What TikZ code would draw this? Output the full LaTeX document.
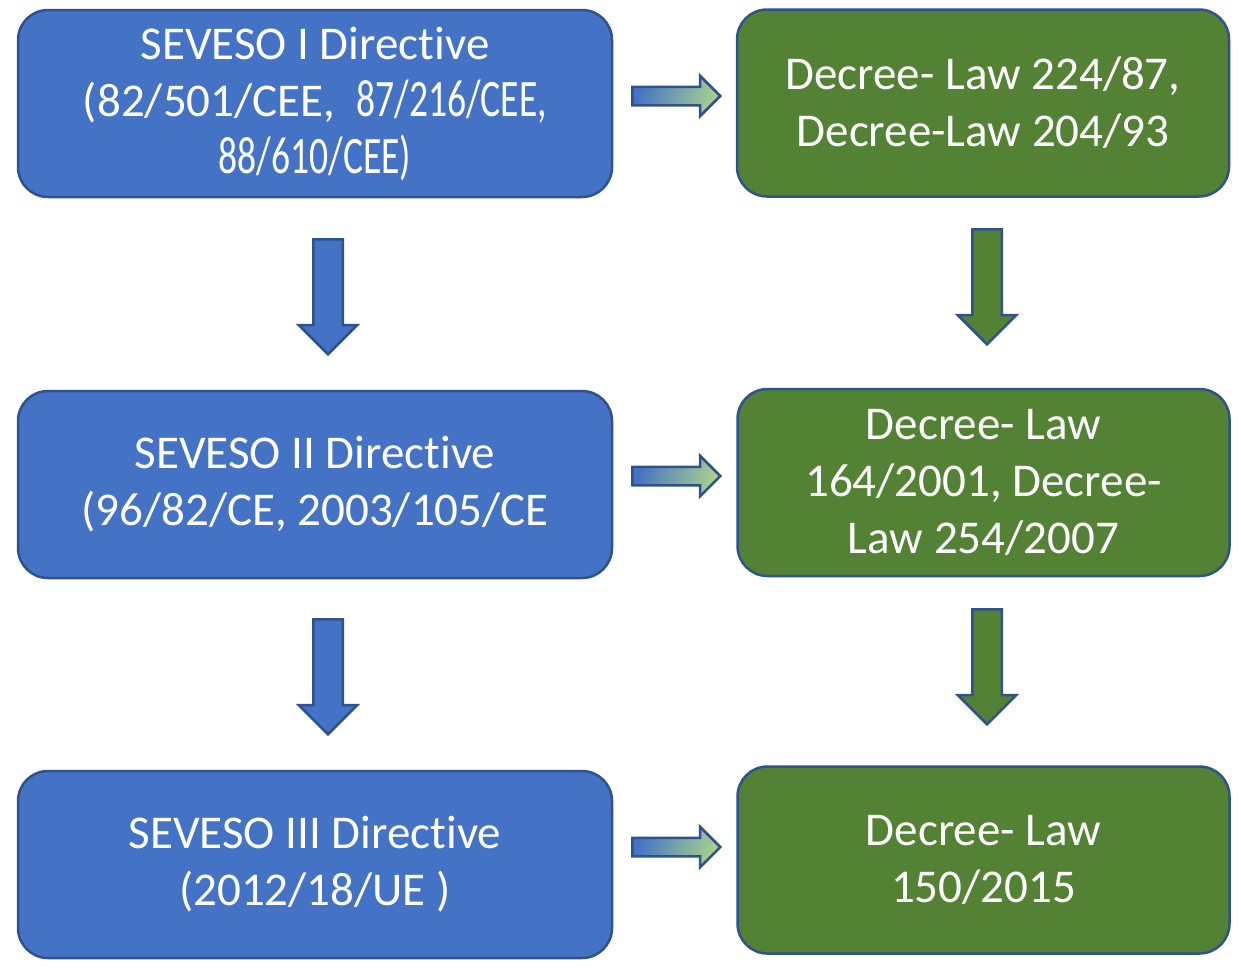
\documentclass[tikz,border=0pt]{standalone}
\usepackage{fontspec}
\setmainfont{Carlito}[Ligatures=NoCommon]
\usepackage{xcolor}
\usepackage{tikz}
\usetikzlibrary{shapes.arrows, positioning}
\definecolor{sevblue}{HTML}{4472C4}
\definecolor{sevedge}{HTML}{2F528F}
\definecolor{lawgreen}{HTML}{548235}
\definecolor{lawlight}{HTML}{A9D18E}

\tikzset{
  card/.style={rounded corners=30pt, draw=sevedge, line width=2.5pt,
    minimum height=187pt, align=center, text=white,
    font=\fontsize{47}{57}\selectfont},
  dirbox/.style={card, fill=sevblue, minimum width=594pt},
  lawbox/.style={card, fill=lawgreen, minimum width=492pt},
  downarrow/.style={single arrow, draw=sevedge, line width=2.5pt,
    shape border rotate=270, inner ysep=0pt, inner xsep=13.5pt,
    single arrow head extend=14.5pt, minimum height=115pt, anchor=tail},
  sidearrow/.style={single arrow, draw=sevedge, line width=2.5pt,
    inner xsep=0pt, inner ysep=8pt, single arrow head extend=11pt,
    minimum height=88pt, anchor=tail, left color=sevblue,
    middle color=lawgreen, right color=lawlight, shading angle=75}
}
\newcommand{\agency}[1]{\scalebox{0.8}[1.12]{#1}}

\begin{document}
\begin{tikzpicture}[x=1pt, y=-1pt]
  \useasboundingbox (0,0) rectangle (1241,967);
  % directives
  \node[dirbox] (sev1) at (315,103.5) {SEVESO I Directive\\(82/501/CEE,~ \agency{87/216/CEE,}\\\agency{88/610/CEE)}};
  \node[dirbox] (sev2) at (315,484.5) {SEVESO II Directive\\(96/82/CE, 2003/105/CE};
  \node[dirbox] (sev3) at (315,864.5) {SEVESO III Directive\\(2012/18/UE )};
  % national law
  \node[lawbox] (law1) at (983,103) {Decree- Law 224/87,\\Decree-Law 204/93};
  \node[lawbox] (law2) at (983.5,482.5) {Decree- Law\\164/2001, Decree-\\Law 254/2007};
  \node[lawbox] (law3) at (983.5,860) {Decree- Law\\150/2015};
  % block arrows
  \node[downarrow, fill=sevblue] (d1) at (328,238) {};
  \node[downarrow, fill=sevblue] (d2) at (328,618) {};
  \node[downarrow, fill=lawgreen] (d3) at (987,228) {};
  \node[downarrow, fill=lawgreen] (d4) at (987,608) {};
  \foreach \y [count=\i] in {96,476,847} {
    \node[sidearrow] (r\i) at (631,\y) {};
  }
\end{tikzpicture}
\end{document}
